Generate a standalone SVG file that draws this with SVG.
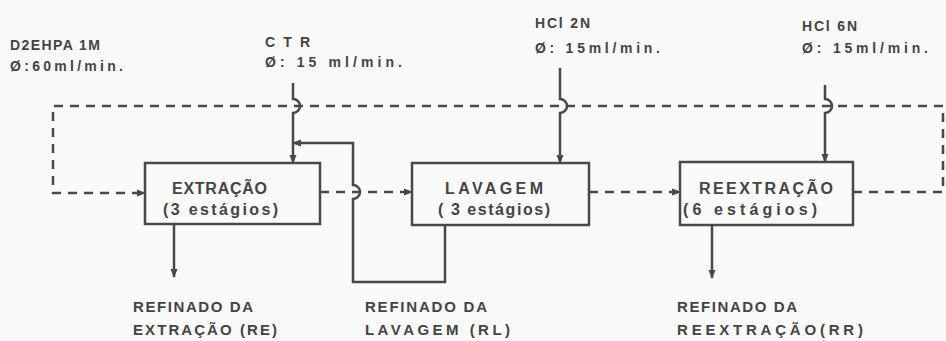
<svg xmlns="http://www.w3.org/2000/svg" width="946" height="341" viewBox="0 0 946 341">
<style>
text{font-family:"Liberation Sans",Arial,sans-serif;font-weight:bold;fill:#444}
.t{font-size:14px}
.l{font-size:15px}
.b{font-size:16px}
.box{fill:none;stroke:#484848;stroke-width:2.5}
.s{fill:none;stroke:#484848;stroke-width:2.5}
.d{fill:none;stroke:#484848;stroke-width:2.5;stroke-dasharray:9 7}
</style>
<defs>
<marker id="ar" markerUnits="userSpaceOnUse" markerWidth="10" markerHeight="10" viewBox="0 0 10 10" refX="9" refY="5" orient="auto">
<path d="M1,1.5 L10,5 L1,8.5 Z" fill="#484848"/>
</marker>
</defs>
<rect width="946" height="341" fill="#fafafa"/>
<g id="connectors">
<path class="d" d="M853,192 H943 V106 H53 V193 H145" marker-end="url(#ar)"/>
<path class="d" d="M320,192 H412" marker-end="url(#ar)"/>
<path class="d" d="M589,192 H680" marker-end="url(#ar)"/>
<path class="s" d="M293,83 V99 A7,7 0 0 1 293,113 V163" marker-end="url(#ar)"/>
<path class="s" d="M560,68 V99 A7,7 0 0 1 560,113 V163" marker-end="url(#ar)"/>
<path class="s" d="M825,85 V99 A7,7 0 0 1 825,113 V162" marker-end="url(#ar)"/>
<path class="s" d="M445,225 V282 H353 V199 A7,7 0 0 0 353,185 V143 H293" marker-end="url(#ar)"/>
<path class="s" d="M174,223 V277" marker-end="url(#ar)"/>
<path class="s" d="M712,225 V278" marker-end="url(#ar)"/>
</g>
<g id="feed-d2ehpa">
<text class="t" x="10" y="50" textLength="90" lengthAdjust="spacing">D2EHPA 1M</text>
<text class="t" x="10" y="71" textLength="113" lengthAdjust="spacing">Ø:60ml/min.</text>
</g>
<g id="feed-ctr">
<text class="t" x="265" y="47" textLength="45" lengthAdjust="spacing">CTR</text>
<text class="t" x="265" y="67" textLength="137" lengthAdjust="spacing">Ø: 15 ml/min.</text>
</g>
<g id="feed-hcl2n">
<text class="t" x="535" y="28" textLength="55" lengthAdjust="spacing">HCl 2N</text>
<text class="t" x="535" y="53" textLength="125" lengthAdjust="spacing">Ø: 15ml/min.</text>
</g>
<g id="feed-hcl6n">
<text class="t" x="802" y="31" textLength="55" lengthAdjust="spacing">HCl 6N</text>
<text class="t" x="802" y="53" textLength="126" lengthAdjust="spacing">Ø: 15ml/min.</text>
</g>
<g id="extracao">
<rect class="box" x="145" y="163" width="175" height="61"/>
<text class="b" x="172" y="194" textLength="95" lengthAdjust="spacing">EXTRAÇÃO</text>
<text class="b" x="163" y="215" textLength="115" lengthAdjust="spacing">(3 estágios)</text>
</g>
<g id="lavagem">
<rect class="box" x="412" y="163" width="177" height="62"/>
<text class="b" x="445" y="194" textLength="98" lengthAdjust="spacing">LAVAGEM</text>
<text class="b" x="438" y="215" textLength="112" lengthAdjust="spacing">( 3 estágios)</text>
</g>
<g id="reextracao">
<rect class="box" x="680" y="162" width="173" height="63"/>
<text class="b" x="699" y="194" textLength="134" lengthAdjust="spacing">REEXTRAÇÃO</text>
<text class="b" x="683" y="215" textLength="134" lengthAdjust="spacing">(6 estágios)</text>
</g>
<g id="out-re">
<text class="l" x="133" y="312" textLength="120" lengthAdjust="spacing">REFINADO DA</text>
<text class="l" x="133" y="335" textLength="144" lengthAdjust="spacing">EXTRAÇÃO (RE)</text>
</g>
<g id="out-rl">
<text class="l" x="365" y="312" textLength="122" lengthAdjust="spacing">REFINADO DA</text>
<text class="l" x="365" y="335" textLength="145" lengthAdjust="spacing">LAVAGEM (RL)</text>
</g>
<g id="out-rr">
<text class="l" x="677" y="312" textLength="120" lengthAdjust="spacing">REFINADO DA</text>
<text class="l" x="677" y="335" textLength="186" lengthAdjust="spacing">REEXTRAÇÃO(RR)</text>
</g>
</svg>
